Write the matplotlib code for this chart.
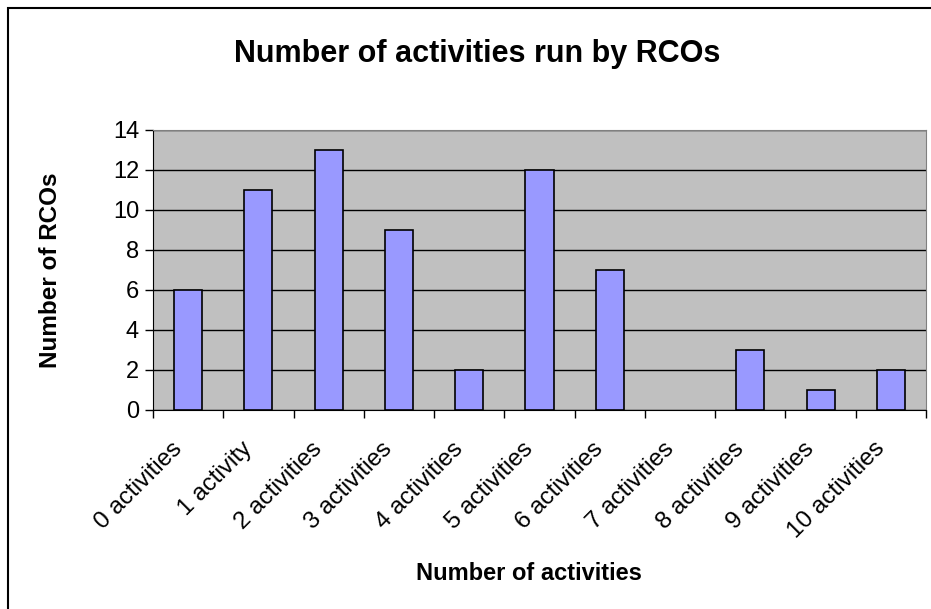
import matplotlib.pyplot as plt
from matplotlib.patches import Rectangle

plt.rcParams.update({'font.family': ['Liberation Sans', 'DejaVu Sans']})

categories = [
    '0 activities', '1 activity', '2 activities', '3 activities',
    '4 activities', '5 activities', '6 activities', '7 activities',
    '8 activities', '9 activities', '10 activities',
]
rco_counts = [6, 11, 13, 9, 2, 12, 7, 0, 3, 1, 2]
y_ticks = [0, 2, 4, 6, 8, 10, 12, 14]

fig = plt.figure(figsize=(9.31, 6.09), dpi=100)
ax = fig.add_axes([153 / 931, 1 - 410 / 609, 773 / 931, 280 / 609])

positions = list(range(len(categories)))
edges = ['black' if v > 0 else 'none' for v in rco_counts]
ax.bar(positions, rco_counts, width=0.4, color='#9999FF',
       edgecolor=edges, linewidth=1.2, zorder=3)

ax.set_facecolor('#C0C0C0')
ax.set_xlim(-0.5, len(categories) - 0.5)
ax.set_ylim(0, 14)
ax.set_yticks(y_ticks)
ax.set_yticklabels([str(v) for v in y_ticks], fontsize=17)
ax.yaxis.grid(True, color='black', linewidth=1, zorder=1)
ax.set_axisbelow(True)

# category boundaries get the tick marks, labels sit a bit left of centre
ax.set_xticks([p - 0.5 for p in positions] + [len(categories) - 0.5])
ax.set_xticklabels([])
ax.set_xticks([p - 0.25 for p in positions], minor=True)
ax.set_xticklabels(categories, minor=True, rotation=45, ha='right',
                   rotation_mode='anchor', fontsize=17.5)
ax.tick_params(axis='x', which='minor', length=0, pad=20)
ax.tick_params(axis='x', which='major', length=6, width=1, direction='out')
ax.tick_params(axis='y', length=6, width=1, direction='out', pad=4)

for side in ('top', 'right'):
    ax.spines[side].set_color('#808080')
ax.spines['left'].set_color('black')
ax.spines['bottom'].set_color('black')

fig.text(51 / 931, 1 - 270 / 609, 'Number of RCOs', fontsize=17.5,
         fontweight='bold', rotation=90, ha='center', va='center')
fig.text(529 / 931, 1 - 574 / 609, 'Number of activities', fontsize=17,
         fontweight='bold', ha='center', va='center')
fig.text(477 / 931, 1 - 54 / 609, 'Number of activities run by RCOs',
         fontsize=22, fontweight='bold', ha='center', va='center')

fig.patches.append(Rectangle((8 / 931, -0.01), 1.0, 1 - 8 / 609 + 0.01,
                             transform=fig.transFigure, fill=False,
                             edgecolor='black', linewidth=1.5))

fig.savefig('out.png', dpi=100)
